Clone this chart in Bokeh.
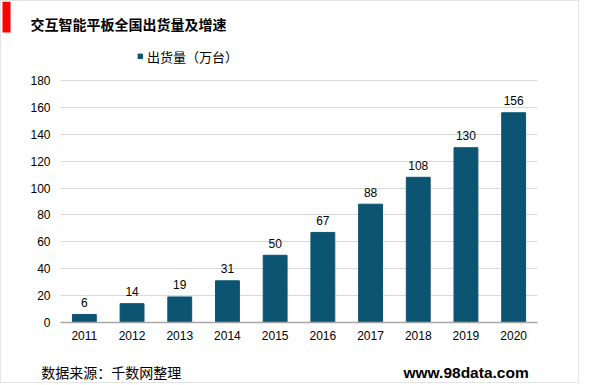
from bokeh.plotting import figure
from bokeh.layouts import column
from bokeh.models import (ColumnDataSource, FactorRange, Range1d, FixedTicker,
                          Legend, LegendItem, BoxAnnotation)
from bokeh.core.properties import value
from bokeh.embed import file_html
from bokeh.resources import INLINE

# ---- data ----
years = ["2011", "2012", "2013", "2014", "2015", "2016", "2017", "2018", "2019", "2020"]
shipments = [6, 14, 19, 31, 50, 67, 88, 108, 130, 156]
y_ticks = [0, 20, 40, 60, 80, 100, 120, 140, 160, 180]

title_text = "交互智能平板全国出货量及增速"
series_name = "出货量（万台）"
source_text = "数据来源：千数网整理"
site_text = "www.98data.com"

BAR = "#0B5472"
CJK = "Noto Sans CJK SC"
LAT = "Liberation Sans"
W = 577


def blank(height, y0, y1):
    f = figure(width=W, height=height, output_backend="svg", toolbar_location=None,
               x_range=Range1d(1, 578), y_range=Range1d(y1, y0),
               x_axis_location=None, y_axis_location=None, title=None,
               min_border=0, min_border_left=0, min_border_right=0,
               min_border_top=0, min_border_bottom=0)
    f.frame_align = False
    f.xgrid.visible = False
    f.ygrid.visible = False
    f.outline_line_color = None
    f.background_fill_color = "white"
    f.border_fill_color = "white"
    return f


# ---- header ----
header = blank(44, 1, 45)
header.add_layout(BoxAnnotation(left=2, right=10, top=1, bottom=32,
                                fill_color="#FF0000", fill_alpha=1, line_color=None))
header.text(x=[30], y=[23.5], text=[title_text], text_font=value(CJK),
            text_font_size="14px", text_font_style="bold", text_baseline="middle",
            text_align="left", text_color="#000000")

# ---- main chart ----
src = ColumnDataSource(dict(year=years, v=shipments, lab=[str(s) for s in shipments]))
y_top = 180 + (80 - 45) * 180 / 242

p = figure(width=W, height=300, output_backend="svg", toolbar_location=None, title=None,
           x_range=FactorRange(*years, range_padding=0), y_range=Range1d(0, y_top),
           min_border_left=59, min_border_right=41, min_border_top=0, min_border_bottom=23)
p.frame_align = False
p.outline_line_color = None
p.background_fill_color = "white"
p.border_fill_color = "white"

r = p.vbar(x="year", top="v", width=0.5, source=src, fill_color=BAR, line_color=BAR)

p.text(x="year", y="v", text="lab", source=src, text_align="center", text_baseline="middle",
       y_offset=-12, text_font=value(LAT), text_font_size="12px", text_color="#000000")

p.yaxis.ticker = FixedTicker(ticks=y_ticks)
p.yaxis.axis_line_color = None
p.yaxis.major_tick_line_color = None
p.yaxis.minor_tick_line_color = None
p.yaxis.major_tick_out = 0
p.yaxis.major_label_standoff = 10
p.yaxis.major_label_text_font = LAT
p.yaxis.major_label_text_font_size = "12px"
p.yaxis.major_label_text_color = "#000000"

p.xaxis.axis_line_color = "#A6A6A6"
p.xaxis.axis_line_width = 1.5
p.xaxis.major_tick_line_color = None
p.xaxis.major_tick_out = 0
p.xaxis.major_label_standoff = 8
p.xaxis.major_label_text_font = LAT
p.xaxis.major_label_text_font_size = "12px"
p.xaxis.major_label_text_color = "#000000"

p.xgrid.grid_line_color = None
p.ygrid.grid_line_color = "#D9D9D9"
p.ygrid.grid_line_width = 1

legend = Legend(items=[LegendItem(label=series_name, renderers=[r])],
                location=(77, 256.5), orientation="horizontal",
                glyph_width=6, glyph_height=6, label_standoff=4,
                label_height=18, label_text_font=CJK, label_text_font_size="13px",
                label_text_color="#000000", padding=0, margin=0,
                border_line_color=None, background_fill_alpha=0)
p.add_layout(legend, "center")

# ---- footer ----
footer = blank(37, 345, 382)
footer.text(x=[40.7], y=[371.7], text=[source_text], text_font=value(CJK),
            text_font_size="14px", text_baseline="middle", text_align="left",
            text_color="#000000")
footer.text(x=[403], y=[371.7], text=[site_text], text_font=value(LAT),
            text_font_size="15.5px", text_font_style="bold", text_baseline="middle",
            text_align="left", text_color="#000000")

layout = column(header, p, footer, spacing=0,
                styles={"border": "1px solid #E4E4E4"})

open("out.html", "w").write(file_html(layout, INLINE))
